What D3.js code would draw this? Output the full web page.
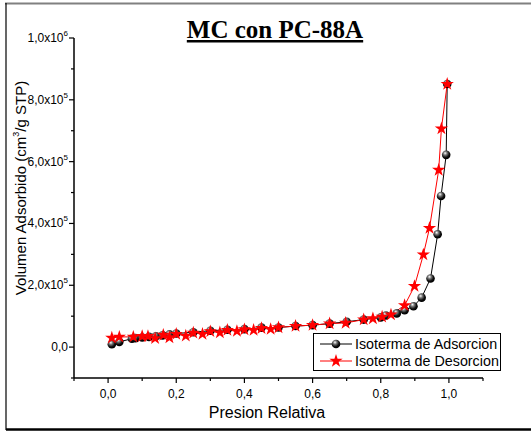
<!DOCTYPE html>
<html>
<head>
<meta charset="utf-8">
<script src="https://cdn.jsdelivr.net/npm/d3@7"></script>
<style>
  body { margin: 0; background: #fff; }
  svg { display: block; }
</style>
</head>
<body>
<svg id="graph" width="531" height="432"></svg>
<script>
// adsorption branch
const adsP = [0.011, 0.033, 0.07, 0.08, 0.10, 0.12, 0.14, 0.16, 0.18, 0.20, 0.25, 0.30, 0.35, 0.40,
  0.45, 0.50, 0.55, 0.60, 0.65, 0.70, 0.75, 0.80, 0.815, 0.847, 0.87, 0.896, 0.92, 0.946, 0.967,
  0.977, 0.992, 0.995];
const adsV = [9000, 17000, 27000, 29000, 31000, 33000, 35000, 38000, 41000, 44000, 48000, 53000,
  56000, 58000, 63000, 63500, 68000, 71000, 76000, 82000, 89000, 96000, 102000, 109000, 119000,
  132000, 160000, 222000, 365000, 489000, 622000, 851000];

// desorption branch
const desP = [0.995, 0.978, 0.97, 0.943, 0.925, 0.899, 0.87, 0.83, 0.804, 0.777, 0.75, 0.697, 0.65,
  0.60, 0.55, 0.50, 0.477, 0.45, 0.427, 0.40, 0.378, 0.35, 0.328, 0.30, 0.277, 0.25, 0.228, 0.20,
  0.18, 0.162, 0.138, 0.117, 0.10, 0.074, 0.033, 0.011];
const desV = [851000, 707000, 573000, 385000, 299000, 197000, 135000, 105000, 98000, 92500, 89000,
  78000, 76000, 71000, 68000, 63500, 58000, 61000, 55000, 57000, 51600, 55000, 47000, 50600,
  42000, 46000, 36500, 42000, 31000, 39000, 28000, 35000, 35000, 33000, 33000, 30000];

const xTicks = [0, 0.2, 0.4, 0.6, 0.8, 1.0];
const xTickLabels = ["0,0", "0,2", "0,4", "0,6", "0,8", "1,0"];
const yTicks = [0, 200000, 400000, 600000, 800000, 1000000];
const yTickLabels = [["0,0", ""], ["2,0x10", "5"], ["4,0x10", "5"], ["6,0x10", "5"], ["8,0x10", "5"], ["1,0x10", "6"]];

const svg = d3.select("#graph");

const x = d3.scaleLinear().domain([-0.1, 1.1]).range([74, 483]);
const y = d3.scaleLinear().domain([-100000, 1000000]).range([378, 38]);

// frame
svg.append("line").attr("x1", 5).attr("x2", 531).attr("y1", 3.5).attr("y2", 3.5)
    .style("stroke", "#808080").style("stroke-width", 2);
svg.append("line").attr("x1", 6).attr("x2", 6).attr("y1", 3).attr("y2", 430)
    .style("stroke", "#000").style("stroke-width", 1.2);
svg.append("line").attr("x1", 6).attr("x2", 531).attr("y1", 429.5).attr("y2", 429.5)
    .style("stroke", "#000").style("stroke-width", 2.5);

const defs = svg.append("defs");
const grad = defs.append("radialGradient").attr("id", "ball")
    .attr("cx", "40%").attr("cy", "35%").attr("r", "60%").attr("fx", "38%").attr("fy", "30%");
grad.append("stop").attr("offset", "0%").attr("stop-color", "#ffffff");
grad.append("stop").attr("offset", "35%").attr("stop-color", "#777");
grad.append("stop").attr("offset", "75%").attr("stop-color", "#111");
grad.append("stop").attr("offset", "100%").attr("stop-color", "#000");

// axes
const xAxis = svg.append("g").attr("transform", "translate(0,378)");
xAxis.append("line").attr("x1", 74).attr("x2", 483).style("stroke", "#000").style("stroke-width", 1.5);
const xMinor = d3.range(-0.1, 1.11, 0.1);
xAxis.selectAll(".xt").data(xMinor).join("line")
    .attr("x1", d => x(d)).attr("x2", d => x(d)).attr("y1", 0)
    .attr("y2", (d, i) => (i % 2 === 1 ? 5 : 3))
    .style("stroke", "#000").style("stroke-width", 1.2);
xAxis.selectAll(".xl").data(xTicks).join("text")
    .attr("x", d => x(d)).attr("y", 20)
    .attr("text-anchor", "middle")
    .style("font-family", "Arial, 'Liberation Sans'").style("font-size", "12px")
    .text((d, i) => xTickLabels[i]);

const yAxis = svg.append("g").attr("transform", "translate(74,0)");
yAxis.append("line").attr("y1", 38).attr("y2", 378).style("stroke", "#000").style("stroke-width", 1.5);
const yMinor = d3.range(-100000, 1000001, 100000);
yAxis.selectAll(".yt").data(yMinor).join("line")
    .attr("y1", d => y(d)).attr("y2", d => y(d)).attr("x1", 0)
    .attr("x2", (d, i) => (i % 2 === 1 ? -5 : -3))
    .style("stroke", "#000").style("stroke-width", 1.2);
const yl = yAxis.selectAll(".yl").data(yTicks).join("text")
    .attr("x", -6).attr("y", d => y(d) + 4)
    .attr("text-anchor", "end")
    .style("font-family", "Arial, 'Liberation Sans'").style("font-size", "12px");
yl.append("tspan").text((d, i) => yTickLabels[i][0]);
yl.append("tspan").attr("dy", -6).style("font-size", "8px").text((d, i) => yTickLabels[i][1]);

// axis titles
svg.append("text").attr("x", 267).attr("y", 418).attr("text-anchor", "middle")
    .style("font-family", "Arial, 'Liberation Sans'").style("font-size", "16px")
    .text("Presion Relativa");
const yt = svg.append("text").attr("transform", "translate(26,188) rotate(-90)")
    .attr("text-anchor", "middle")
    .style("font-family", "Arial, 'Liberation Sans'").style("font-size", "15px");
yt.append("tspan").text("Volumen Adsorbido (cm");
yt.append("tspan").attr("dy", -7).style("font-size", "9px").text("3");
yt.append("tspan").attr("dy", 7).text("/g STP)");

// title
svg.append("text").attr("x", 275).attr("y", 38).attr("text-anchor", "middle")
    .attr("text-decoration", "underline")
    .style("font-family", "'Liberation Serif', 'Times New Roman', serif")
    .style("font-size", "25px").style("font-weight", "bold")
    .text("MC con PC-88A");

// series
const ads = adsP.map((p, i) => [p, adsV[i]]);
const des = desP.map((p, i) => [p, desV[i]]);
const line = d3.line().x(d => x(d[0])).y(d => y(d[1]));

svg.append("path").datum(ads).attr("d", line)
    .style("fill", "none").style("stroke", "#000").style("stroke-width", 1);
svg.append("path").datum(des).attr("d", line)
    .style("fill", "none").style("stroke", "#ff0000").style("stroke-width", 1);

svg.selectAll(".ball").data(ads).join("circle")
    .attr("cx", d => x(d[0])).attr("cy", d => y(d[1])).attr("r", 4.3)
    .style("fill", "url(#ball)");

const star = d3.symbol().type(d3.symbolStar).size(55);
svg.selectAll(".star").data(des).join("path")
    .attr("d", star)
    .attr("transform", d => "translate(" + x(d[0]) + "," + y(d[1]) + ")")
    .style("fill", "#ff0000");

// legend
const lg = svg.append("g");
lg.append("rect").attr("x", 313.5).attr("y", 333.5).attr("width", 187).attr("height", 37)
    .style("fill", "#fff").style("stroke", "#000").style("stroke-width", 1);
const items = [["Isoterma de Adsorcion", "#000"], ["Isoterma de Desorcion", "#ff0000"]];
items.forEach(function(it, i) {
    const cy = 344 + i * 17;
    lg.append("line").attr("x1", 320).attr("x2", 352).attr("y1", cy).attr("y2", cy)
        .style("stroke", it[1]).style("stroke-width", 1);
    if (i === 0) {
        lg.append("circle").attr("cx", 336).attr("cy", cy).attr("r", 4.3).style("fill", "url(#ball)");
    } else {
        lg.append("path").attr("d", star).attr("transform", "translate(336," + cy + ")")
            .style("fill", "#ff0000");
    }
    lg.append("text").attr("x", 355).attr("y", cy + 5)
        .style("font-family", "Arial, 'Liberation Sans'").style("font-size", "14.3px")
        .text(it[0]);
});
</script>
</body>
</html>
